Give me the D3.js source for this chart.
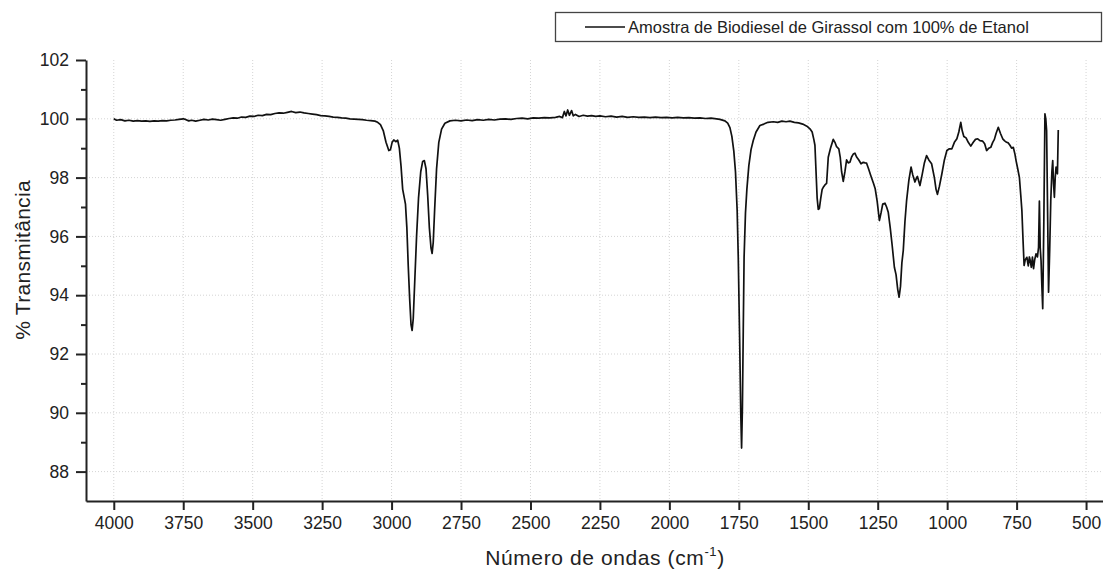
<!DOCTYPE html>
<html>
<head>
<meta charset="utf-8">
<script src="https://cdn.jsdelivr.net/npm/d3@7"></script>
<style>
    body { margin: 0; background: #fff; }
    svg { font-family: "Liberation Sans", Arial, sans-serif; }
</style>
</head>
<body>
<div class="my_div"></div>
<script>
// FTIR spectrum (cm-1 / % T)
var wavenumber = [
    4000, 3990, 3975, 3960, 3945, 3930, 3915, 3900, 3885, 3870, 3855, 3840, 3825, 3810, 3795, 3780, 3765, 3750,
    3740, 3730, 3720, 3705, 3690, 3675, 3660, 3645, 3630, 3615, 3600, 3585, 3570, 3555, 3540, 3525, 3510, 3495,
    3480, 3465, 3450, 3435, 3420, 3405, 3390, 3375, 3360, 3345, 3330, 3315, 3300, 3285, 3270, 3255, 3240, 3225,
    3210, 3195, 3180, 3165, 3150, 3135, 3120, 3105, 3090, 3075, 3060, 3050, 3040, 3030, 3020, 3010, 3004, 2998,
    2992, 2985, 2978, 2972, 2966, 2960, 2955, 2950, 2945, 2940, 2935, 2930, 2926, 2922, 2916, 2910, 2903, 2895,
    2888, 2882, 2876, 2870, 2864, 2858, 2854, 2850, 2845, 2838, 2830, 2820, 2808, 2790, 2770, 2750, 2730, 2710,
    2690, 2670, 2650, 2630, 2610, 2590, 2570, 2550, 2530, 2510, 2490, 2470, 2450, 2430, 2410, 2395, 2385, 2378,
    2372, 2366, 2360, 2352, 2346, 2338, 2325, 2310, 2295, 2280, 2265, 2250, 2230, 2210, 2190, 2170, 2150, 2130,
    2110, 2090, 2070, 2050, 2030, 2010, 1990, 1970, 1950, 1930, 1910, 1890, 1870, 1850, 1830, 1818, 1800, 1790,
    1782, 1775, 1768, 1762, 1756, 1752, 1747, 1743, 1740, 1737, 1734, 1731, 1726, 1721, 1714, 1706, 1698, 1688,
    1674, 1660, 1645, 1626, 1610, 1595, 1580, 1566, 1550, 1535, 1520, 1505, 1494, 1486, 1480, 1476, 1472, 1468,
    1464, 1460, 1455, 1450, 1446, 1440, 1434, 1428, 1420, 1410, 1404, 1398, 1390, 1385, 1380, 1374, 1368, 1362,
    1356, 1350, 1344, 1338, 1332, 1326, 1318, 1310, 1302, 1295, 1290, 1283, 1276, 1271, 1265, 1259, 1252, 1244,
    1238, 1232, 1224, 1218, 1212, 1205, 1198, 1190, 1184, 1178, 1173, 1168, 1163, 1158, 1152, 1146, 1138, 1130,
    1124, 1116, 1110, 1107, 1103, 1098, 1090, 1082, 1074, 1066, 1056, 1046, 1040, 1035, 1028, 1019, 1010, 1001,
    992, 983, 974, 965, 958, 951, 946, 940, 932, 924, 915, 906, 898, 890, 882, 872, 865, 858, 850, 843, 836, 830,
    824, 816, 808, 800, 793, 786, 780, 774, 768, 762, 756, 752, 746, 740, 735, 731, 727, 723, 719, 713, 708, 704,
    701, 697, 693, 689, 685, 680, 675, 671, 668, 665, 662, 659, 656, 652, 648, 645, 642, 638, 635, 631, 627, 623,
    620, 617, 614, 611, 608, 605, 603, 600
];
var transmittance = [
    100.0, 99.95, 99.97, 99.93, 99.95, 99.92, 99.94, 99.92, 99.93, 99.91, 99.93, 99.92, 99.94, 99.93, 99.95, 99.96, 99.98, 100.0,
    99.97, 99.93, 99.95, 99.92, 99.95, 99.98, 99.96, 99.99, 99.97, 99.95, 99.98, 100.01, 100.03, 100.02, 100.06, 100.05, 100.09, 100.08,
    100.12, 100.11, 100.15, 100.14, 100.18, 100.2, 100.19, 100.22, 100.25, 100.21, 100.23, 100.2, 100.18, 100.16, 100.14, 100.11, 100.1, 100.08,
    100.06, 100.05, 100.03, 100.02, 100.0, 99.99, 99.98, 99.97, 99.95, 99.94, 99.92, 99.88, 99.8, 99.6, 99.2, 98.92, 98.95, 99.2,
    99.28, 99.22, 99.27, 99.0, 98.4, 97.6, 97.35, 97.1, 96.3, 95.0, 93.9, 93.0, 92.8, 93.2, 94.6, 96.0, 97.3, 98.2,
    98.55, 98.58, 98.3, 97.4, 96.3, 95.6, 95.42, 95.8, 96.9, 98.3, 99.2, 99.65, 99.85, 99.93, 99.95, 99.93, 99.96, 99.94,
    99.97, 99.95, 99.98, 99.96, 99.99, 100.0, 99.98, 100.01, 100.02, 100.0, 100.03, 100.02, 100.04, 100.03, 100.05, 100.08, 100.04, 100.25,
    100.1, 100.3, 100.12, 100.28, 100.1, 100.15, 100.08, 100.12, 100.09, 100.11, 100.08, 100.1, 100.07, 100.09, 100.06, 100.08, 100.05, 100.07,
    100.05, 100.06, 100.04, 100.06, 100.04, 100.05, 100.03, 100.05, 100.03, 100.04, 100.02, 100.03, 100.01, 100.02, 100.0, 99.98, 99.93, 99.85,
    99.7, 99.4, 98.9, 98.2, 96.9, 95.3, 92.5, 90.0, 88.8, 90.2, 92.8, 95.3, 96.8, 97.6, 98.4, 98.95, 99.26, 99.55,
    99.77, 99.82, 99.88, 99.9, 99.88, 99.92, 99.9, 99.92, 99.88, 99.86, 99.82, 99.75, 99.66, 99.55, 99.3, 99.1, 98.2, 97.3,
    96.92, 96.95, 97.3, 97.6, 97.67, 97.75, 97.8, 98.69, 99.0, 99.3, 99.2, 99.05, 98.98, 98.7, 98.2, 97.87, 98.2, 98.6,
    98.5, 98.52, 98.7, 98.8, 98.83, 98.7, 98.6, 98.47, 98.52, 98.5, 98.49, 98.3, 98.1, 97.96, 97.8, 97.62, 97.2, 96.54,
    96.8, 97.1, 97.13, 97.0, 96.82, 96.3, 95.7, 94.95, 94.7, 94.2, 93.93, 94.3, 95.1, 95.52, 96.5, 97.22, 97.9, 98.36,
    98.1, 97.85, 98.0, 98.04, 97.9, 97.73, 98.1, 98.5, 98.75, 98.6, 98.47, 98.0, 97.6, 97.43, 97.7, 98.13, 98.6, 98.92,
    98.98, 98.98, 99.2, 99.32, 99.55, 99.88, 99.6, 99.4, 99.35, 99.2, 99.07, 99.2, 99.3, 99.32, 99.26, 99.24, 99.15, 98.92, 99.0, 99.03, 99.2, 99.3,
    99.5, 99.71, 99.5, 99.32, 99.25, 99.2, 99.18, 99.1, 99.0, 99.03, 98.8, 98.58, 98.3, 98.01, 97.4, 96.88, 95.9, 95.01, 95.2, 95.29, 95.0, 95.3,
    95.18, 94.95, 95.3, 94.9, 95.2, 95.41, 95.3, 95.63, 97.2, 95.6, 95.18, 94.3, 93.54, 96.5, 100.17, 100.0, 99.6, 96.5, 94.1, 95.5, 97.22, 98.2,
    98.58, 97.8, 97.33, 98.0, 98.36, 98.2, 98.13, 99.62
];

var xTicks = [4000, 3750, 3500, 3250, 3000, 2750, 2500, 2250, 2000, 1750, 1500, 1250, 1000, 750, 500];
var yTicks = [88, 90, 92, 94, 96, 98, 100, 102];
var yMinorTicks = [89, 91, 93, 95, 97, 99, 101];
var seriesName = "Amostra de Biodiesel de Girassol com 100% de Etanol";

var data = wavenumber.map((w, i) => { return { w: w, t: transmittance[i] } });

// Plot frame
var width = 1103,
    height = 570,
    padLeft = 86,
    padRight = 1103,
    padTop = 60,
    padBottom = 501;

var xScale = d3.scaleLinear()
    .domain([4100, 439])
    .range([padLeft, padRight]);

var yScale = d3.scaleLinear()
    .domain([87, 102])
    .range([padBottom, padTop]);

var svg = d3.select(".my_div")
    .append("svg")
    .attr("width", width)
    .attr("height", height)

// Dotted grid
var grid = svg.append("g")
grid.selectAll("line.gx")
    .data(xTicks)
    .enter()
    .append("line")
    .attr("x1", (d) => { return xScale(d) })
    .attr("x2", (d) => { return xScale(d) })
    .attr("y1", padTop)
    .attr("y2", padBottom)
    .attr("stroke", "#d4d4d4")
    .attr("stroke-dasharray", "1,2")
grid.selectAll("line.gy")
    .data(yTicks.filter((d) => { return d < 102 }))
    .enter()
    .append("line")
    .attr("x1", padLeft)
    .attr("x2", padRight)
    .attr("y1", (d) => { return yScale(d) })
    .attr("y2", (d) => { return yScale(d) })
    .attr("stroke", "#d4d4d4")
    .attr("stroke-dasharray", "1,2")

// Spectrum
var line = d3.line()
    .x((d) => { return xScale(d.w) })
    .y((d) => { return yScale(d.t) })

svg.append("path")
    .datum(data)
    .attr("d", line)
    .attr("fill", "none")
    .attr("stroke", "#111")
    .attr("stroke-width", 1.7)
    .attr("stroke-linejoin", "round")

// Axes
svg.append("g")
    .attr("transform", "translate(0," + padBottom + ")")
    .call(d3.axisBottom(xScale).tickValues(xTicks).tickSize(9).tickSizeOuter(0).tickPadding(7).tickFormat(d3.format("d")))

svg.append("g")
    .attr("transform", "translate(" + padLeft + ",0)")
    .call(d3.axisLeft(yScale).tickValues(yTicks).tickSize(10).tickSizeOuter(0).tickPadding(7))

svg.append("g")
    .attr("transform", "translate(" + padLeft + ",0)")
    .call(d3.axisLeft(yScale).tickValues(yMinorTicks).tickSize(5).tickSizeOuter(0).tickFormat(""))
    .select(".domain").remove()

svg.selectAll(".domain, .tick line")
    .attr("stroke", "#222")
    .attr("stroke-width", 2)
svg.selectAll(".tick text")
    .attr("fill", "#222")
    .attr("font-size", "17.5px")
    .attr("font-family", "Liberation Sans, Arial, sans-serif")

// Axis titles
var xTitle = svg.append("text")
    .attr("x", 605)
    .attr("y", 565)
    .attr("text-anchor", "middle")
    .attr("font-size", "21px")
    .attr("letter-spacing", "0.6px")
    .attr("fill", "#222")
xTitle.append("tspan").text("Número de ondas (cm")
xTitle.append("tspan").text("-1").attr("font-size", "13px").attr("dy", "-9")
xTitle.append("tspan").text(")").attr("dy", "9")

svg.append("text")
    .attr("transform", "translate(30,260) rotate(-90)")
    .attr("text-anchor", "middle")
    .attr("font-size", "21px")
    .attr("letter-spacing", "0.3px")
    .attr("fill", "#222")
    .text("% Transmitância")

// Legend
var legend = svg.append("g")
legend.append("rect")
    .attr("x", 555.5)
    .attr("y", 12.5)
    .attr("width", 546)
    .attr("height", 29)
    .attr("fill", "#fff")
    .attr("stroke", "#444")
    .attr("stroke-width", 1.3)
legend.append("line")
    .attr("x1", 585)
    .attr("x2", 625)
    .attr("y1", 27)
    .attr("y2", 27)
    .attr("stroke", "#111")
    .attr("stroke-width", 1.7)
legend.append("text")
    .attr("x", 628)
    .attr("y", 33)
    .attr("font-size", "16.5px")
    .attr("fill", "#222")
    .text(seriesName)
</script>
</body>
</html>
